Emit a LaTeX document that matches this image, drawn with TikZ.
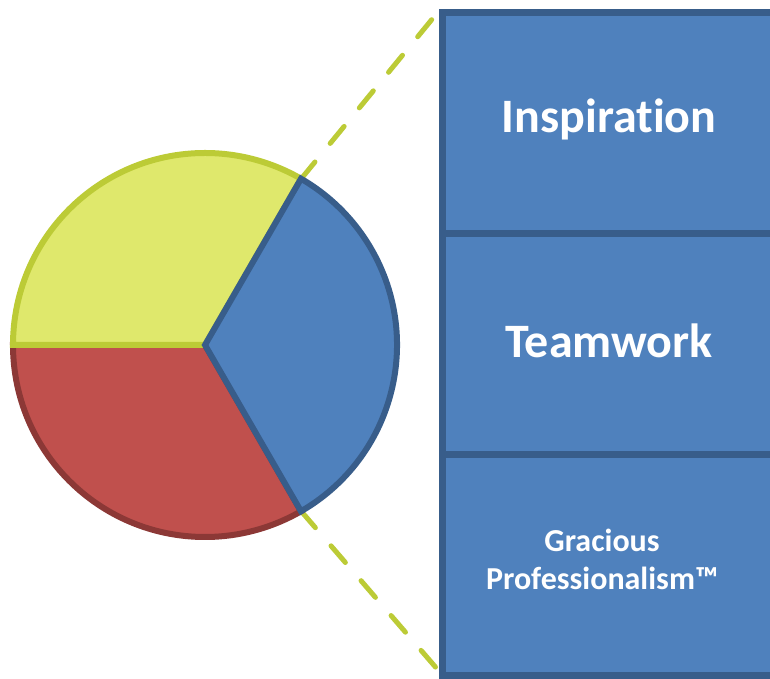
\documentclass[tikz,border=0pt]{standalone}
\usepackage{fontspec}
\setmainfont{Carlito}[Ligatures={NoCommon}]
\definecolor{bfill}{HTML}{4F81BD}
\definecolor{bline}{HTML}{385D8A}
\definecolor{yfill}{HTML}{DFE86C}
\definecolor{yline}{HTML}{BCCB36}
\definecolor{rfill}{HTML}{C0504D}
\definecolor{rline}{HTML}{8C3836}
\tikzset{
  pane/.style={draw=bline, fill=bfill, line width=7pt, minimum width=334pt, minimum height=221pt, inner sep=0pt, outer sep=0pt},
  panetext/.style={text=white, font=\bfseries, align=center},
  guide/.style={draw=yline, line width=5pt, line cap=round, dash pattern=on 22pt off 24pt},
}
\begin{document}
\begin{tikzpicture}[x=1pt,y=1pt]
\useasboundingbox (0,0) rectangle (770,679);
\clip (0,0) rectangle (770,679);
\coordinate (c) at (205,334);
\coordinate (p60) at (301,500);
\coordinate (p300) at (301,168);
\coordinate (t1) at (438,667);
\coordinate (t2) at (438,9);
% guide lines
\draw[guide] (p60) -- (t1);
\draw[guide] (p300) -- (t2);
% pie
\filldraw[fill=rfill, draw=rline, line width=6pt] (c) -- ++(180:192) arc[start angle=180, end angle=300, radius=192] -- cycle;
\filldraw[fill=yfill, draw=yline, line width=6pt] (c) -- ++(180:192) arc[start angle=180, end angle=60, radius=192] -- cycle;
\filldraw[fill=bfill, draw=bline, line width=6pt] (c) -- ++(-60:192) arc[start angle=-60, end angle=60, radius=192] -- cycle;
% panes
\node[pane] (box1) at (609,555.5) {};
\node[pane] (box2) at (609,334.5) {};
\node[pane] (box3) at (609,113.5) {};
\node[panetext, font=\bfseries\fontsize{48}{52}\selectfont] (l1) at (609,560) {Inspiration};
\node[panetext, font=\bfseries\fontsize{48}{52}\selectfont] (l2) at (609,338) {Teamwork};
\node[panetext, font=\bfseries\fontsize{32}{38}\selectfont] (l3) at (602,120) {Gracious\\Professionalism™};
\end{tikzpicture}
\end{document}
